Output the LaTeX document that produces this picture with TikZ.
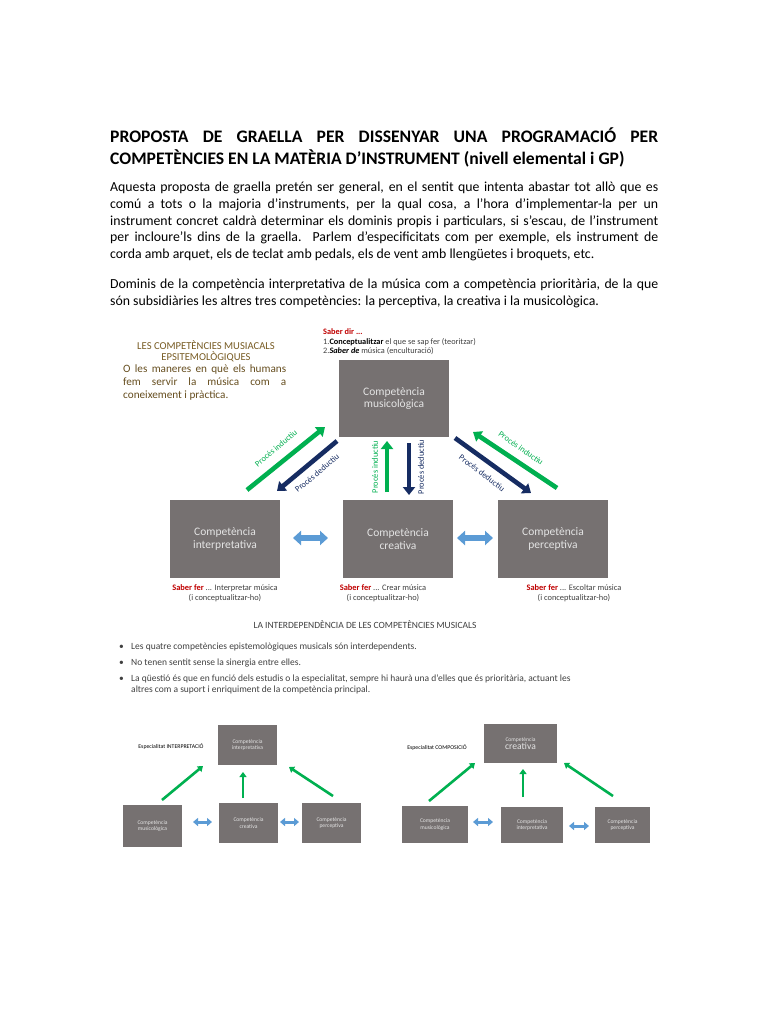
\documentclass[tikz,border=0pt]{standalone}
\usepackage{fontspec}
\setmainfont{Carlito}
\usetikzlibrary{arrows.meta}
\definecolor{boxgray}{RGB}{118,113,113}
\definecolor{boxtext}{RGB}{228,228,228}
\definecolor{indgreen}{RGB}{0,176,80}
\definecolor{dednavy}{RGB}{22,44,98}
\definecolor{linkblue}{RGB}{91,155,213}
\definecolor{sabred}{RGB}{192,0,0}
\definecolor{headbrown}{RGB}{120,92,36}
\definecolor{slidetext}{RGB}{64,64,64}
\begin{document}
\begin{tikzpicture}[x=1pt,y=-1pt,
  titletext/.style={anchor=base west,inner sep=0,font=\fontsize{17.6}{21.5}\selectfont\bfseries},
  partext/.style={anchor=base west,inner sep=0,font=\fontsize{13.8}{16.8}\selectfont},
  bigbox/.style={fill=boxgray,text=boxtext,align=center,inner sep=0,font=\fontsize{11.5}{12.8}\selectfont},
  smallbox/.style={fill=boxgray,text=boxtext,align=center,inner sep=0,font=\fontsize{5.6}{6.8}\selectfont},
  sabertext/.style={inner sep=0,align=center,text=slidetext,font=\fontsize{8.4}{9.6}\selectfont},
  labeltext/.style={inner sep=0,font=\fontsize{8.4}{9}\selectfont},
  slidetxt/.style={anchor=base west,inner sep=0,text=slidetext,font=\fontsize{9.5}{11}\selectfont},
  ind/.style={indgreen,line width=4.6pt,-{Triangle[length=8pt,width=12pt]}},
  ded/.style={dednavy,line width=4.6pt,-{Triangle[length=8pt,width=12pt]}},
  link/.style={linkblue,line width=5.5pt,{Triangle[length=8pt,width=14pt]}-{Triangle[length=8pt,width=14pt]}},
  smallind/.style={indgreen,line width=2.6pt,-{Triangle[length=5pt,width=7pt]}},
  smalllink/.style={linkblue,line width=3pt,{Triangle[length=5pt,width=8pt]}-{Triangle[length=5pt,width=8pt]}}]
\useasboundingbox[fill=white] (0,0) rectangle (768,1024);
\node[titletext] (titol1) at (110,142.5) {\makebox[548pt][s]{PROPOSTA DE GRAELLA PER DISSENYAR UNA PROGRAMACIÓ PER}};
\node[titletext] (titol2) at (110,164.5) {COMPETÈNCIES EN LA MATÈRIA D’INSTRUMENT (nivell elemental i GP)};
\node[partext] (par1) at (110,191.5) {\makebox[548pt][s]{Aquesta proposta de graella pretén ser general, en el sentit que intenta abastar tot allò que es}};
\node[partext] (par2) at (110,208.3) {\makebox[548pt][s]{comú a tots o la majoria d’instruments, per la qual cosa, a l’hora d’implementar-la per un}};
\node[partext] (par3) at (110,225.1) {\makebox[548pt][s]{instrument concret caldrà determinar els dominis propis i particulars, si s’escau, de l’instrument}};
\node[partext] (par4) at (110,241.9) {\makebox[548pt][s]{per incloure’ls dins de la graella. Parlem d’especificitats com per exemple, els instrument de}};
\node[partext] (par5) at (110,258.7) {corda amb arquet, els de teclat amb pedals, els de vent amb llengüetes i broquets, etc.};
\node[partext] (dom1) at (110,288.5) {\makebox[548pt][s]{Dominis de la competència interpretativa de la música com a competència prioritària, de la que}};
\node[partext] (dom2) at (110,305.3) {són subsidiàries les altres tres competències: la perceptiva, la creativa i la musicològica.};
\node[inner sep=0,text=headbrown,font=\fontsize{10.6}{12}\selectfont] (cap1) at (206,345) {LES COMPETÈNCIES MUSIACALS};
\node[inner sep=0,text=headbrown,font=\fontsize{10.6}{12}\selectfont] (cap2) at (206,357) {EPSITEMOLÒGIQUES};
\node[anchor=base west,inner sep=0,text=headbrown!85!black,font=\fontsize{11.2}{13}\selectfont] (cap3) at (123,372.5) {\makebox[163pt][s]{O les maneres en què els humans}};
\node[anchor=base west,inner sep=0,text=headbrown!85!black,font=\fontsize{11.2}{13}\selectfont] (cap4) at (123,385.5) {\makebox[163pt][s]{fem servir la música com a}};
\node[anchor=base west,inner sep=0,text=headbrown!85!black,font=\fontsize{11.2}{13}\selectfont] (cap5) at (123,398.5) {coneixement i pràctica.};
\node[anchor=base west,inner sep=0,text=sabred,font=\fontsize{8.3}{9}\selectfont\bfseries] (dir1) at (323,334) {Saber dir ...};
\node[anchor=base west,inner sep=0,text=slidetext,font=\fontsize{8.3}{9}\selectfont] (dir2) at (323,344) {1.\textbf{\color{black}Conceptualitzar} el que se sap fer (teoritzar)};
\node[anchor=base west,inner sep=0,text=slidetext,font=\fontsize{8.3}{9}\selectfont] (dir3) at (323,353.5) {2.\textbf{\itshape\color{black}Saber de} música (enculturació)};
\node[bigbox,minimum width=110pt,minimum height=77pt] (musico) at (394,398.5) {Competència\\musicològica};
\node[bigbox,minimum width=110pt,minimum height=78pt] (interp) at (225,539) {Competència\\interpretativa};
\node[bigbox,minimum width=110pt,minimum height=78pt] (creat) at (398,539) {Competència\\creativa};
\node[bigbox,minimum width=110pt,minimum height=78pt] (percep) at (553,539) {Competència\\perceptiva};
\coordinate (ind1a) at (247,490);
\coordinate (ind1b) at (325,427);
\coordinate (ded1a) at (337,441);
\coordinate (ded1b) at (277,491);
\coordinate (ind2a) at (387,492);
\coordinate (ind2b) at (387,441);
\coordinate (ded2a) at (409,443);
\coordinate (ded2b) at (409,495);
\coordinate (ded3a) at (455,438);
\coordinate (ded3b) at (531,493);
\coordinate (ind3a) at (557,488);
\coordinate (ind3b) at (473,432);
\draw[ind] (ind1a) -- (ind1b);
\draw[ded] (ded1a) -- (ded1b);
\draw[ind] (ind2a) -- (ind2b);
\draw[ded] (ded2a) -- (ded2b);
\draw[ded] (ded3a) -- (ded3b);
\draw[ind] (ind3a) -- (ind3b);
\node[labeltext,text=indgreen,rotate=40] (lind1) at (276,448) {Procés inductiu};
\node[labeltext,text=dednavy,rotate=40] (lded1) at (317,473) {Procés deductiu};
\node[labeltext,text=indgreen,rotate=90] (lind2) at (375,467) {Procés inductiu};
\node[labeltext,text=dednavy,rotate=90] (lded2) at (421,467) {Procés deductiu};
\node[labeltext,text=indgreen,rotate=-35] (lind3) at (521,448) {Procés inductiu};
\node[labeltext,text=dednavy,rotate=-37] (lded3) at (482,473) {Procés deductiu};
\coordinate (lnk1a) at (293,538);
\coordinate (lnk1b) at (328,538);
\coordinate (lnk2a) at (457,538);
\coordinate (lnk2b) at (493,538);
\draw[link] (lnk1a) -- (lnk1b);
\draw[link] (lnk2a) -- (lnk2b);
\node[sabertext] (fer1) at (225,593.5) {\textcolor{sabred}{\textbf{Saber fer}} ... Interpretar música\\(i conceptualitzar-ho)};
\node[sabertext] (fer2) at (383,593.5) {\textcolor{sabred}{\textbf{Saber fer}} ... Crear música\\(i conceptualitzar-ho)};
\node[sabertext] (fer3) at (574,593.5) {\textcolor{sabred}{\textbf{Saber fer}} ... Escoltar música\\(i conceptualitzar-ho)};
\node[inner sep=0,text=slidetext,font=\fontsize{9.5}{11}\selectfont] (interdep) at (365,625) {LA INTERDEPENDÈNCIA DE LES COMPETÈNCIES MUSICALS};
\node[slidetxt] (bul1) at (119,649) {\textbullet};
\node[slidetxt] (item1) at (131,649) {Les quatre competències epistemològiques musicals són interdependents.};
\node[slidetxt] (bul2) at (119,665) {\textbullet};
\node[slidetxt] (item2) at (131,665) {No tenen sentit sense la sinergia entre elles.};
\node[slidetxt] (bul3) at (119,681) {\textbullet};
\node[slidetxt] (item3) at (131,681) {La qüestió és que en funció dels estudis o la especialitat, sempre hi haurà una d’elles que és prioritària, actuant les};
\node[slidetxt] (item4) at (131,692) {altres com a suport i enriquiment de la competència principal.};
\node[inner sep=0,text=black,font=\fontsize{5.8}{7}\selectfont] (esp1) at (171,747) {Especialitat INTERPRETACIÓ};
\node[smallbox,minimum width=59pt,minimum height=40pt] (interp1) at (247.5,745) {Competència\\interpretativa};
\node[smallbox,minimum width=59pt,minimum height=42pt] (musico1) at (152.5,826) {Competència\\musicològica};
\node[smallbox,minimum width=59pt,minimum height=40pt] (creat1) at (248.5,823) {Competència\\creativa};
\node[smallbox,minimum width=59pt,minimum height=40pt] (percep1) at (331.5,823) {Competència\\perceptiva};
\coordinate (s1a) at (162,800);
\coordinate (s1b) at (203,766);
\coordinate (s2a) at (243,798);
\coordinate (s2b) at (243,772);
\coordinate (s3a) at (333,796);
\coordinate (s3b) at (289,767);
\draw[smallind] (s1a) -- (s1b);
\draw[smallind] (s2a) -- (s2b);
\draw[smallind] (s3a) -- (s3b);
\coordinate (sl1a) at (193,822);
\coordinate (sl1b) at (212,822);
\coordinate (sl2a) at (280,822);
\coordinate (sl2b) at (299,822);
\draw[smalllink] (sl1a) -- (sl1b);
\draw[smalllink] (sl2a) -- (sl2b);
\node[inner sep=0,text=black,font=\fontsize{5.8}{7}\selectfont] (esp2) at (437,748) {Especialitat COMPOSICIÓ};
\node[smallbox,minimum width=73pt,minimum height=39pt] (creat2) at (520.5,743.5) {Competència\\{\fontsize{9.6}{11}\selectfont creativa}};
\node[smallbox,minimum width=66pt,minimum height=37pt] (musico2) at (435,824.5) {Competència\\musicològica};
\node[smallbox,minimum width=62pt,minimum height=36pt] (interp2) at (532,825) {Competència\\interpretativa};
\node[smallbox,minimum width=55pt,minimum height=36pt] (percep2) at (622.5,825) {Competència\\perceptiva};
\coordinate (t1a) at (429,801);
\coordinate (t1b) at (475,763);
\coordinate (t2a) at (523,797);
\coordinate (t2b) at (523,769);
\coordinate (t3a) at (613,796);
\coordinate (t3b) at (564,763);
\draw[smallind] (t1a) -- (t1b);
\draw[smallind] (t2a) -- (t2b);
\draw[smallind] (t3a) -- (t3b);
\coordinate (tl1a) at (473,822);
\coordinate (tl1b) at (493,822);
\coordinate (tl2a) at (569,826);
\coordinate (tl2b) at (589,826);
\draw[smalllink] (tl1a) -- (tl1b);
\draw[smalllink] (tl2a) -- (tl2b);
\end{tikzpicture}
\end{document}
